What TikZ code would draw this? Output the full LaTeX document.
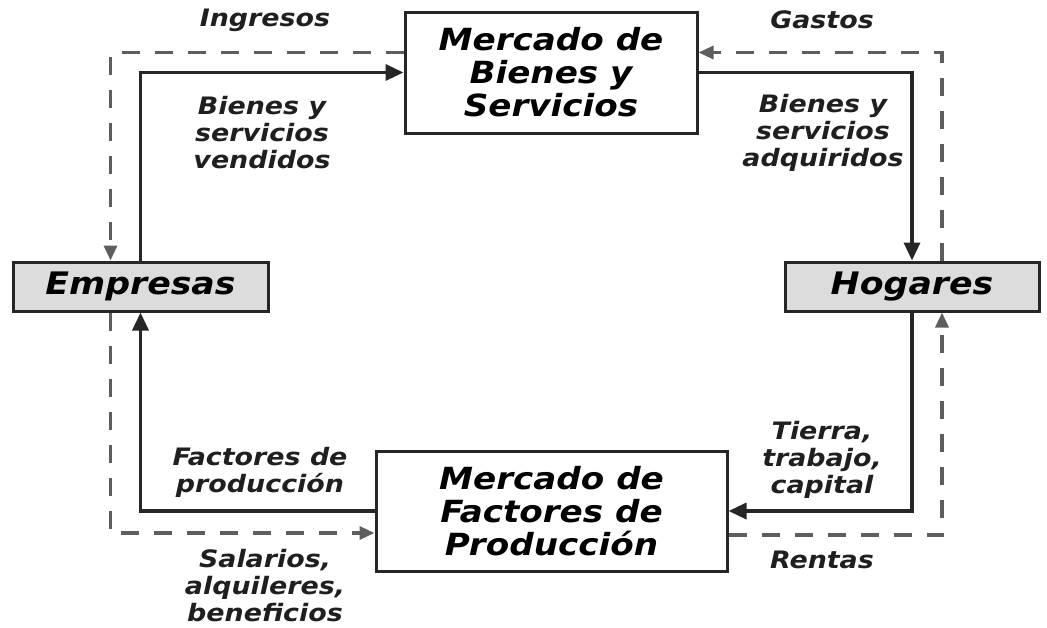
\documentclass[tikz,border=0pt]{standalone}
\usepackage{fontspec}
\setmainfont{DejaVu Sans}[FakeStretch=1.12]
\usetikzlibrary{arrows.meta,calc}
\definecolor{dline}{HTML}{5E5E5E}
\definecolor{sline}{HTML}{262626}
\definecolor{boxfill}{HTML}{DCDCDC}
\tikzset{
  market/.style={draw=sline,line width=3pt,fill=white,align=center,inner sep=0pt,
    font=\fontsize{30.5}{33}\selectfont\bfseries\itshape},
  agent/.style={draw=sline,line width=3pt,fill=boxfill,inner sep=0pt,
    font=\fontsize{31}{33}\selectfont\bfseries\itshape},
  lbl/.style={align=center,inner sep=0pt,text=black!88,
    font=\fontsize{24}{27}\selectfont\bfseries\itshape},
  flow/.style={draw=sline,line width=3.4pt,-{Triangle[length=18pt,width=16pt]}},
  money/.style={draw=dline,line width=3.2pt,dash pattern=on 18pt off 15pt,
    -{Triangle[length=15pt,width=13pt]}},
}
\begin{document}
\begin{tikzpicture}[x=1pt,y=-1pt]
\useasboundingbox (0,0) rectangle (1047,627);
\node[market,minimum width=292pt,minimum height=121pt] (top) at (551,72.5) {Mercado de\\Bienes y\\Servicios};
\node[market,minimum width=351pt,minimum height=120pt] (bot) at (551.5,511) {Mercado de\\Factores de\\Producción};
\node[agent,minimum width=255pt,minimum height=49pt] (emp) at (140.5,286.5) {Empresas};
\node[agent,minimum width=254pt,minimum height=49pt] (hog) at (912,286.5) {Hogares};
% real flows
\draw[flow] (emp.north) |- (top.west);
\draw[flow] (top.east) -| (hog.north);
\draw[flow] (hog.south) |- (bot.east);
\draw[flow] (bot.west) -| (emp.south);
% money flows
\draw[money] ($(top.west)+(0,-20)$) -| ($(emp.north)+(-30,0)$);
\draw[money] ($(hog.north)+(30,0)$) |- ($(top.east)+(0,-20)$);
\draw[money] ($(bot.east)+(0,24)$) -| ($(hog.south)+(30,0)$);
\draw[money] ($(emp.south)+(-30,0)$) |- ($(bot.west)+(0,22)$);
% labels
\node[lbl] (l1) at (265,20) {Ingresos};
\node[lbl] (l2) at (822,20) {Gastos};
\node[lbl] (l3) at (262,133) {Bienes y\\servicios\\vendidos};
\node[lbl] (l4) at (823,133) {Bienes y\\servicios\\adquiridos};
\node[lbl] (l5) at (260,472) {Factores de\\producción};
\node[lbl] (l6) at (822,460) {Tierra,\\trabajo,\\capital};
\node[lbl] (l7) at (265,586) {Salarios,\\alquileres,\\beneficios};
\node[lbl] (l8) at (822,560) {Rentas};
\end{tikzpicture}
\end{document}
